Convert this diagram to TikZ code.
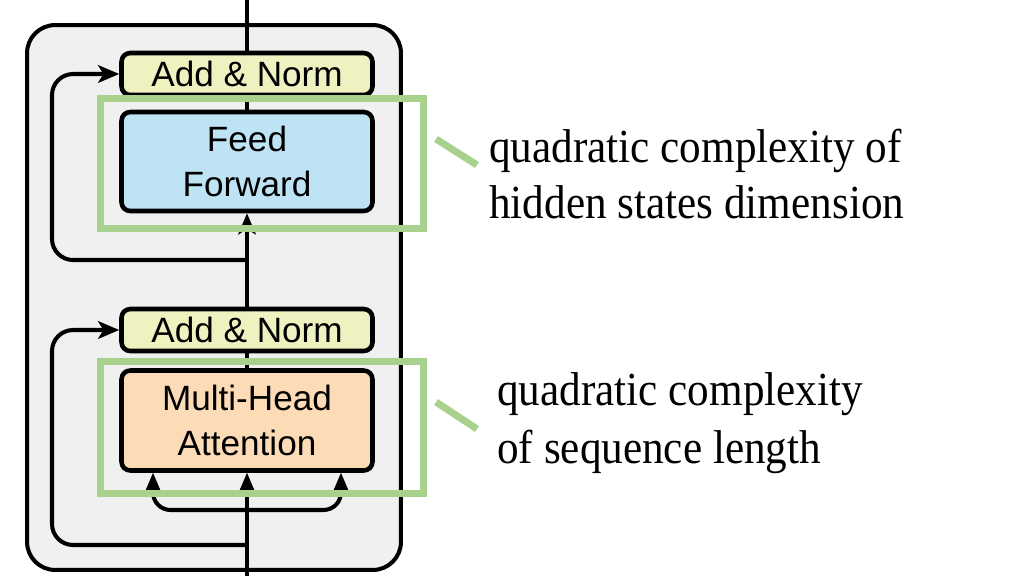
\documentclass[tikz,border=0pt]{standalone}
\usepackage{fontspec}
\setmainfont[FakeStretch=0.91]{Liberation Serif}
\newfontfamily\blockfont{Liberation Sans}
\usetikzlibrary{arrows.meta}
\definecolor{layergray}{HTML}{F0F0F0}
\definecolor{normfill}{HTML}{EEF2C0}
\definecolor{ffnfill}{HTML}{BEE3F4}
\definecolor{attnfill}{HTML}{FCDCB6}
\definecolor{markgreen}{HTML}{A9D18E}

\begin{document}
\begin{tikzpicture}[x=0.02cm,y=-0.02cm,
  wire/.style={black,line width=2.3pt},
  tip/.style={-{Stealth[length=12pt,width=10pt,inset=3pt]}},
  block/.style={draw=black,line width=2.6pt,rounded corners=5pt,minimum width=5.02cm,
    inner sep=0pt,align=center,font=\blockfont\fontsize{20}{25.5}\selectfont},
  hilite/.style={markgreen,line width=4pt},
  note/.style={inner sep=0pt,anchor=base west,font=\fontsize{27}{32}\selectfont}]
\useasboundingbox (0,0) rectangle (1027,576);

\node[draw=black,line width=2.3pt,fill=layergray,rounded corners=16pt,
  minimum width=7.48cm,minimum height=10.9cm] (layer) at (214,297.5) {};

\node[block,fill=normfill,minimum height=0.84cm] (normtop) at (247,74) {Add \& Norm};
\node[block,fill=ffnfill,minimum height=1.98cm] (ffn) at (247,161.5) {Feed\\Forward};
\node[block,fill=normfill,minimum height=0.84cm] (normlow) at (247,330) {Add \& Norm};
\node[block,fill=attnfill,minimum height=2cm] (attn) at (247,420.5) {Multi-Head\\Attention};

\coordinate (out) at (247,0);
\coordinate (in) at (247,576);
\coordinate (forktop) at (247,260);
\coordinate (forklow) at (247,545);
\coordinate (split) at (247,510);

\draw[wire] (out) -- (normtop.north);
\draw[wire] (ffn.north) -- (normtop.south);
\draw[wire,tip] (normlow.north) -- (ffn.south);
\draw[wire] (attn.north) -- (normlow.south);
\draw[wire,tip] (in) -- (attn.south);

\draw[wire,tip,rounded corners=12pt] (forktop) -- (52,260) |- (normtop.west);
\draw[wire,tip,rounded corners=12pt] (forklow) -- (52,545) |- (normlow.west);
\draw[wire,tip,rounded corners=10pt] (split) -| ([xshift=-1.88cm]attn.south);
\draw[wire,tip,rounded corners=10pt] (split) -| ([xshift=1.88cm]attn.south);

\draw[hilite] (100.5,98.5) rectangle (423.5,228.5);
\draw[hilite] (100.5,361.5) rectangle (423.5,493.5);

\coordinate (tickA) at (436,139);
\coordinate (tickAend) at (477,165);
\coordinate (tickB) at (436,402);
\coordinate (tickBend) at (477,429);
\draw[hilite] (tickA) -- (tickAend);
\draw[hilite] (tickB) -- (tickBend);

\node[note] (noteA) at (489,162) {quadratic complexity of};
\node[note] (noteAb) at (489,218) {hidden states dimension};
\node[note] (noteB) at (497,405) {quadratic complexity};
\node[note] (noteBb) at (497,463) {of sequence length};
\end{tikzpicture}
\end{document}
